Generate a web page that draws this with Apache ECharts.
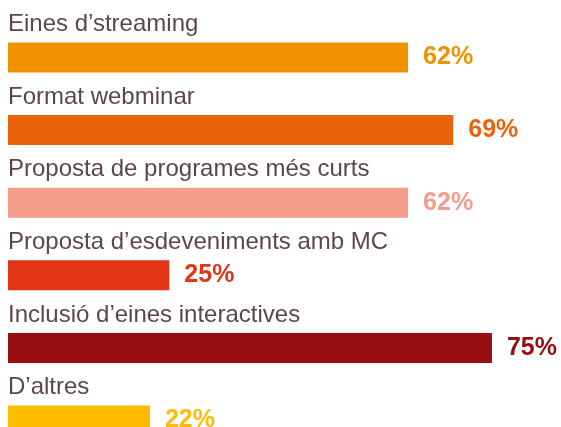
<!DOCTYPE html>
<html>
<head>
<meta charset="utf-8">
<script src="https://cdn.jsdelivr.net/npm/echarts@6/dist/echarts.min.js"></script>
<style>
  html, body { margin: 0; padding: 0; background: #fff; }
  #chart { width: 561px; height: 427px; }
</style>
</head>
<body>
<div id="chart"></div>
<script>
const categories = [
  'Eines d\u2019streaming',
  'Format webminar',
  'Proposta de programes més curts',
  'Proposta d\u2019esdeveniments amb MC',
  'Inclusió d\u2019eines interactives',
  'D\u2019altres'
]
const values = [62, 69, 62, 25, 75, 22]
const barColors = ['#f29100', '#eb6309', '#f29d88', '#e33515', '#960e12', '#febc00']

const font = '"Liberation Sans", Arial, Helvetica, sans-serif'
const chart = echarts.init(document.getElementById('chart'))

chart.setOption({
  animation: false,
  grid: {
    left: 8,
    right: 0,
    top: 21.2,
    height: 435.6,
    containLabel: false,
    outerBoundsMode: 'none',
  },
  xAxis: {
    type: 'value',
    min: 0,
    max: 85.7,
    show: false,
  },
  yAxis: {
    type: 'category',
    data: categories,
    inverse: true,
    show: false,
  },
  series: [
    {
      // bars + percentage labels
      type: 'bar',
      barWidth: 30,
      data: values.map((v, i) => ({
        value: v,
        itemStyle: { color: barColors[i] },
        label: { color: barColors[i] },
      })),
      label: {
        show: true,
        position: 'right',
        distance: 15,
        formatter: '{c}%',
        fontFamily: font,
        fontWeight: 'bold',
        fontSize: 25,
      },
    },
    {
      // invisible copy that only carries the category names above each bar
      type: 'bar',
      barWidth: 30,
      barGap: '-100%',
      silent: true,
      data: values,
      itemStyle: { color: 'transparent' },
      label: {
        show: true,
        position: [0, -6],
        verticalAlign: 'bottom',
        align: 'left',
        formatter: '{b}',
        fontFamily: font,
        fontSize: 24,
        color: '#5c464d',
      },
    },
  ],
})
</script>
</body>
</html>
